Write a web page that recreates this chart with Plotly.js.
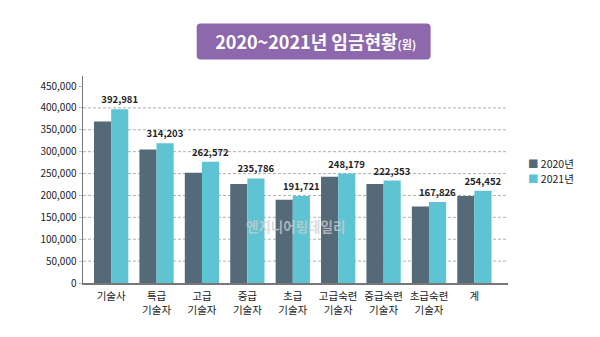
<!DOCTYPE html>
<html>
<head>
<meta charset="utf-8">
<script src="https://cdn.plot.ly/plotly-3.0.1.min.js"></script>
<style>html,body{margin:0;padding:0;background:#fff;}#chart{width:600px;height:337px;}</style>
</head>
<body>
<div id="chart"></div>
<script>
// Data
const categories = ['기술사','특급<br>기술자','고급<br>기술자','중급<br>기술자','초급<br>기술자','고급숙련<br>기술자','중급숙련<br>기술자','초급숙련<br>기술자','계'];
const values2020 = [369000, 305000, 252000, 226000, 190000, 243000, 226000, 175000, 199000];
const values2021 = [397000, 319000, 277000, 239000, 199000, 250000, 234000, 185000, 211000];
const labels2021 = ['392,981','314,203','262,572','235,786','191,721','248,179','222,353','167,826','254,452'];
const seriesNames = ['2020년','2021년'];
const seriesColors = ['#546a78','#5ec4d3'];
const yTicks = [0,50000,100000,150000,200000,250000,300000,350000,400000,450000];
const yTickText = ['0','50,000','100,000','150,000','200,000','250,000','300,000','350,000','400,000','450,000'];
const gridValues = [50000,100000,150000,200000,250000,300000,350000,400000];

const FONT = '"Noto Sans CJK KR", "Noto Sans", sans-serif';

const traces = [
  {type:'bar', name:seriesNames[0], x:categories, y:values2020,
   marker:{color:seriesColors[0]}, hoverinfo:'skip', showlegend:false},
  {type:'bar', name:seriesNames[1], x:categories, y:values2021,
   marker:{color:seriesColors[1]}, text:labels2021, textposition:'outside', constraintext:'none',
   textfont:{size:9.5, color:'#222', family:FONT, weight:'bold'}, cliponaxis:false, hoverinfo:'skip', showlegend:false}
];

const shapes = gridValues.map(v => ({
  type:'line', xref:'paper', yref:'y', x0:0, x1:1, y0:v, y1:v,
  line:{color:'#b0b0b0', width:1, dash:'3px,2px'}, layer:'below'
}));

// rounded title box (paper coords)
const bx0=0.2675, bx1=0.818, by0=1.0795, by1=1.2537, rx=0.0094, ry=0.0195;
shapes.push({
  type:'path', xref:'paper', yref:'paper',
  path:`M${bx0+rx},${by0} L${bx1-rx},${by0} Q${bx1},${by0} ${bx1},${by0+ry} L${bx1},${by1-ry} Q${bx1},${by1} ${bx1-rx},${by1} L${bx0+rx},${by1} Q${bx0},${by1} ${bx0},${by1-ry} L${bx0},${by0+ry} Q${bx0},${by0} ${bx0+rx},${by0} Z`,
  fillcolor:'#8e68ad', line:{width:0}
});

// legend built as annotations
const legendY = [0.578, 0.503];
const legendAnn = seriesNames.map((n, i) => ({
  text:`<span style="color:${seriesColors[i]}">■</span> ${n}`,
  xref:'paper', yref:'paper', x:1.043, y:legendY[i], xanchor:'left', yanchor:'middle',
  showarrow:false, font:{size:10.5, color:'#222', family:FONT}
}));

const layout = {
  width:600, height:337,
  margin:{l:83, r:92, t:76, b:54},
  paper_bgcolor:'#fff', plot_bgcolor:'#fff',
  font:{family:FONT, color:'#222', size:10},
  title:{text:'2020~2021년 임금현황<span style="font-size:11px">(원)</span>',
         font:{family:FONT, size:18, color:'#fff', weight:'bold'},
         x:0.526, xanchor:'center', y:0.872, yanchor:'middle'},
  barmode:'group', bargap:0.245, bargroupgap:0,
  xaxis:{type:'category', range:[-0.62, 8.74], showline:true, linecolor:'#777', linewidth:1.5,
         ticks:'', ticklabelstandoff:3, tickfont:{size:10.5, color:'#222', family:FONT}, fixedrange:true},
  yaxis:{range:[0, 472900], tickvals:yTicks, ticktext:yTickText, showgrid:false, zeroline:false,
         showline:true, linecolor:'#777', linewidth:1.5, ticks:'outside', ticklen:3, tickcolor:'#bbb',
         tickfont:{size:10, color:'#222', family:FONT}, fixedrange:true},
  shapes:shapes,
  annotations:[{text:'엔지니어링데일리', xref:'paper', yref:'paper', x:0.5, y:0.275, xanchor:'center', yanchor:'middle',
                showarrow:false, font:{size:13.5, color:'rgba(205,205,205,0.75)', family:FONT, weight:'bold'}}].concat(legendAnn)
};

Plotly.newPlot('chart', traces, layout, {displayModeBar:false, staticPlot:true});
</script>
</body>
</html>
